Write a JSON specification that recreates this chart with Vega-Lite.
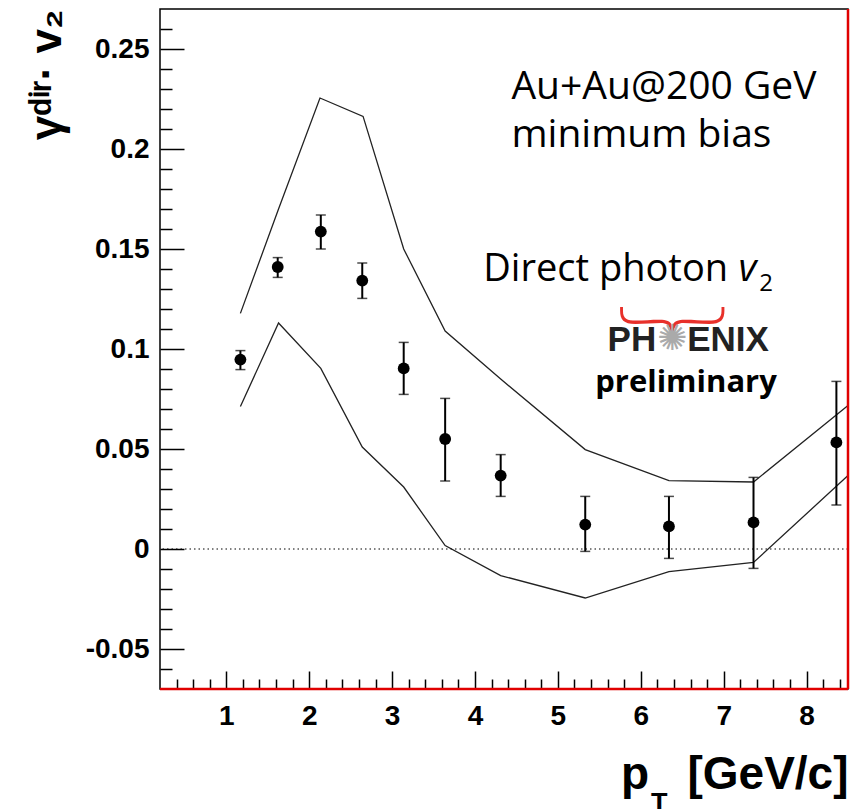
{
  "$schema": "https://vega.github.io/schema/vega-lite/v6.json",
  "autosize": "none",
  "padding": {"left": 160, "top": 9, "right": 19, "bottom": 120},
  "width": 688,
  "height": 680,
  "background": "white",
  "config": {
    "view": {"stroke": "black", "strokeWidth": 1.5},
    "axis": {"domain": false, "grid": false, "labelFont": "Liberation Sans", "labelFontWeight": "bold", "labelColor": "black", "tickColor": "black", "tickWidth": 1.5, "titleFont": "Liberation Sans", "titleFontWeight": "bold", "titleColor": "black"}
  },
  "title": {"text": "T", "orient": "bottom", "anchor": "end", "font": "Liberation Sans", "fontSize": 27, "fontWeight": "bold", "color": "black", "dx": -183, "offset": -6},
  "datasets": {
    "points": [
      {"pt": 1.17, "v2": 0.0947, "lo": 0.0897, "hi": 0.0992},
      {"pt": 1.62, "v2": 0.141, "lo": 0.1358, "hi": 0.1457},
      {"pt": 2.14, "v2": 0.1587, "lo": 0.150, "hi": 0.167},
      {"pt": 2.64, "v2": 0.1342, "lo": 0.1253, "hi": 0.143},
      {"pt": 3.14, "v2": 0.0903, "lo": 0.0773, "hi": 0.1033},
      {"pt": 3.64, "v2": 0.055, "lo": 0.034, "hi": 0.0753},
      {"pt": 4.31, "v2": 0.0367, "lo": 0.0263, "hi": 0.0472},
      {"pt": 5.33, "v2": 0.0122, "lo": -0.0012, "hi": 0.0263},
      {"pt": 6.34, "v2": 0.0113, "lo": -0.0047, "hi": 0.0263},
      {"pt": 7.36, "v2": 0.0133, "lo": -0.0097, "hi": 0.0358},
      {"pt": 8.36, "v2": 0.0533, "lo": 0.022, "hi": 0.0838}
    ],
    "band": [
      {"band": "upper", "pt": 1.17, "v2": 0.1178},
      {"band": "upper", "pt": 1.63, "v2": 0.170},
      {"band": "upper", "pt": 2.13, "v2": 0.2255},
      {"band": "upper", "pt": 2.65, "v2": 0.2163},
      {"band": "upper", "pt": 3.14, "v2": 0.150},
      {"band": "upper", "pt": 3.64, "v2": 0.109},
      {"band": "upper", "pt": 4.31, "v2": 0.085},
      {"band": "upper", "pt": 5.33, "v2": 0.0497},
      {"band": "upper", "pt": 6.34, "v2": 0.0342},
      {"band": "upper", "pt": 7.36, "v2": 0.0335},
      {"band": "upper", "pt": 8.5, "v2": 0.0717},
      {"band": "lower", "pt": 1.17, "v2": 0.0712},
      {"band": "lower", "pt": 1.63, "v2": 0.113},
      {"band": "lower", "pt": 2.14, "v2": 0.0903},
      {"band": "lower", "pt": 2.64, "v2": 0.051},
      {"band": "lower", "pt": 3.14, "v2": 0.031},
      {"band": "lower", "pt": 3.64, "v2": 0.0017},
      {"band": "lower", "pt": 4.31, "v2": -0.0133},
      {"band": "lower", "pt": 5.33, "v2": -0.0245},
      {"band": "lower", "pt": 6.34, "v2": -0.0113},
      {"band": "lower", "pt": 7.36, "v2": -0.0067},
      {"band": "lower", "pt": 8.5, "v2": 0.0367}
    ],
    "one": [{}]
  },
  "encoding": {
    "x": {
      "type": "quantitative",
      "scale": {"domain": [0.2, 8.5], "nice": false, "zero": false},
      "axis": {
        "values": [0.4, 0.6, 0.8, 1, 1.2, 1.4, 1.6, 1.8, 2, 2.2, 2.4, 2.6, 2.8, 3, 3.2, 3.4, 3.6, 3.8, 4, 4.2, 4.4, 4.6, 4.8, 5, 5.2, 5.4, 5.6, 5.8, 6, 6.2, 6.4, 6.6, 6.8, 7, 7.2, 7.4, 7.6, 7.8, 8, 8.2, 8.4],
        "labelExpr": "abs(datum.value - round(datum.value)) < 0.001 ? format(datum.value, 'd') : ''",
        "labelFontSize": 28,
        "labelPadding": 31,
        "tickSize": {"condition": {"test": "abs(datum.value - round(datum.value)) < 0.001", "value": -18}, "value": -10},
        "title": "p\u00a0\u00a0\u00a0[GeV/c]",
        "titleFontSize": 46,
        "titleX": 688,
        "titleY": 99,
        "titleAlign": "right",
        "titleBaseline": "alphabetic"
      }
    },
    "y": {
      "type": "quantitative",
      "scale": {"domain": [-0.07, 0.27], "nice": false, "zero": false},
      "axis": {
        "values": [-0.06, -0.05, -0.04, -0.03, -0.02, -0.01, 0, 0.01, 0.02, 0.03, 0.04, 0.05, 0.06, 0.07, 0.08, 0.09, 0.1, 0.11, 0.12, 0.13, 0.14, 0.15, 0.16, 0.17, 0.18, 0.19, 0.2, 0.21, 0.22, 0.23, 0.24, 0.25, 0.26],
        "labelExpr": "abs(datum.value*20 - round(datum.value*20)) < 0.001 ? '' + round(datum.value*100)/100 : ''",
        "labelFontSize": 28,
        "labelPadding": 35,
        "tickSize": {"condition": {"test": "abs(datum.value*20 - round(datum.value*20)) < 0.001", "value": -24}, "value": -12},
        "title": "γᵈⁱʳ· v₂",
        "titleFontSize": 44,
        "titleAngle": 270,
        "titleX": -100,
        "titleY": 0,
        "titleAlign": "right",
        "titleBaseline": "alphabetic"
      }
    }
  },
  "layer": [
    {
      "data": {"name": "one"},
      "mark": {"type": "rule", "color": "black", "strokeWidth": 1, "strokeDash": [1.5, 3]},
      "encoding": {"y": {"datum": 0}}
    },
    {
      "data": {"name": "band"},
      "mark": {"type": "line", "color": "#222", "strokeWidth": 1.3},
      "encoding": {
        "x": {"field": "pt", "type": "quantitative"},
        "y": {"field": "v2", "type": "quantitative"},
        "detail": {"field": "band"}
      }
    },
    {
      "data": {"name": "points"},
      "mark": {"type": "errorbar", "color": "black", "thickness": 2, "ticks": {"size": 10, "thickness": 1.5, "color": "black"}},
      "encoding": {
        "x": {"field": "pt", "type": "quantitative"},
        "y": {"field": "lo", "type": "quantitative"},
        "y2": {"field": "hi"}
      }
    },
    {
      "data": {"name": "points"},
      "mark": {"type": "circle", "color": "black", "opacity": 1, "size": 140},
      "encoding": {
        "x": {"field": "pt", "type": "quantitative"},
        "y": {"field": "v2", "type": "quantitative"}
      }
    },
    {
      "data": {"name": "one"},
      "mark": {"type": "text", "text": "Au+Au@200 GeV", "font": "Open Sans", "fontSize": 39, "align": "left", "baseline": "alphabetic", "color": "black"},
      "encoding": {"x": {"datum": 4.44}, "y": {"datum": 0.225}}
    },
    {
      "data": {"name": "one"},
      "mark": {"type": "text", "text": "minimum bias", "font": "Open Sans", "fontSize": 39, "align": "left", "baseline": "alphabetic", "color": "black"},
      "encoding": {"x": {"datum": 4.44}, "y": {"datum": 0.201}}
    },
    {
      "data": {"name": "one"},
      "mark": {"type": "text", "text": "Direct photon", "font": "Open Sans", "fontSize": 38, "align": "left", "baseline": "alphabetic", "color": "black"},
      "encoding": {"x": {"datum": 4.10}, "y": {"datum": 0.134}}
    },
    {
      "data": {"name": "one"},
      "mark": {"type": "text", "text": "v", "font": "Open Sans", "fontStyle": "italic", "fontSize": 39, "align": "left", "baseline": "alphabetic", "color": "black"},
      "encoding": {"x": {"datum": 7.18}, "y": {"datum": 0.134}}
    },
    {
      "data": {"name": "one"},
      "mark": {"type": "text", "text": "2", "font": "Open Sans", "fontSize": 24, "align": "left", "baseline": "alphabetic", "color": "black"},
      "encoding": {"x": {"datum": 7.43}, "y": {"datum": 0.129}}
    },
    {
      "data": {"name": "one"},
      "mark": {"type": "text", "text": "︸", "font": "Noto Sans CJK SC", "fontWeight": 100, "fontSize": 110, "align": "center", "baseline": "middle", "color": "#e8302a"},
      "encoding": {"x": {"datum": 6.38}, "y": {"datum": 0.091}}
    },
    {
      "data": {"name": "one"},
      "mark": {"type": "text", "text": "PH", "font": "Liberation Sans", "fontWeight": "bold", "fontSize": 35, "align": "left", "baseline": "alphabetic", "color": "#222"},
      "encoding": {"x": {"datum": 5.60}, "y": {"datum": 0.099}}
    },
    {
      "data": {"name": "one"},
      "mark": {"type": "text", "text": "✺", "font": "DejaVu Sans", "fontSize": 36, "align": "center", "baseline": "middle", "color": "#aaa"},
      "encoding": {"x": {"datum": 6.38}, "y": {"datum": 0.105}}
    },
    {
      "data": {"name": "one"},
      "mark": {"type": "text", "text": "ENIX", "font": "Liberation Sans", "fontWeight": "bold", "fontSize": 35, "align": "left", "baseline": "alphabetic", "color": "#222"},
      "encoding": {"x": {"datum": 6.56}, "y": {"datum": 0.099}}
    },
    {
      "data": {"name": "one"},
      "mark": {"type": "text", "text": "preliminary", "font": "Open Sans", "fontWeight": "bold", "fontSize": 31, "align": "left", "baseline": "alphabetic", "color": "black"},
      "encoding": {"x": {"datum": 5.45}, "y": {"datum": 0.0785}}
    },
    {
      "data": {"name": "one"},
      "mark": {"type": "rule", "color": "#e00000", "strokeWidth": 2.5, "clip": false},
      "encoding": {"x": {"datum": 8.5}}
    },
    {
      "data": {"name": "one"},
      "mark": {"type": "rule", "color": "#e00000", "strokeWidth": 2.5, "clip": false},
      "encoding": {"y": {"datum": -0.07}}
    }
  ]
}
